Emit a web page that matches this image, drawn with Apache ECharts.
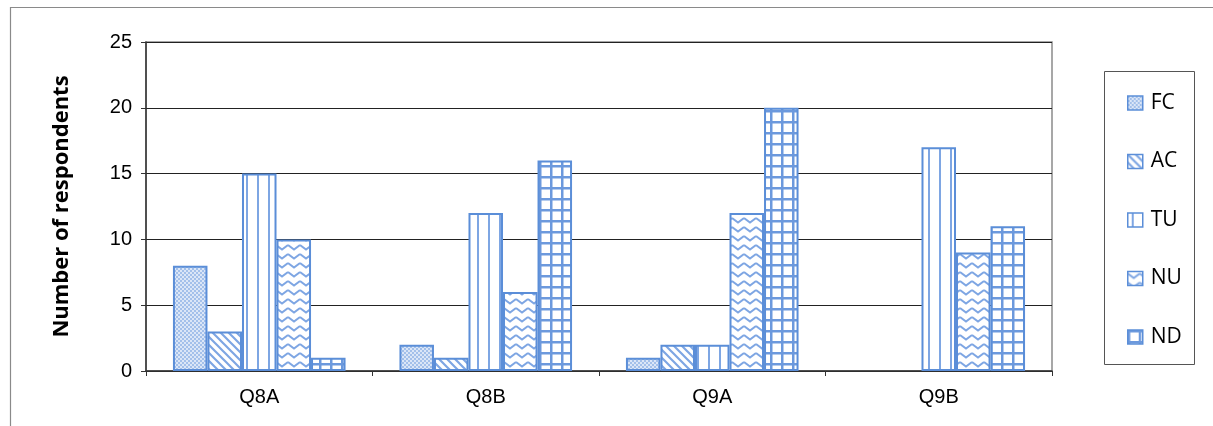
<!DOCTYPE html>
<html>
<head>
<meta charset="utf-8">
<script src="https://cdn.jsdelivr.net/npm/echarts@6/dist/echarts.min.js"></script>
<style>
html,body{margin:0;padding:0;background:#fff;}
#chart{width:1213px;height:426px;}
</style>
</head>
<body>
<div id="chart"></div>
<script>
const categories = ['Q8A', 'Q8B', 'Q9A', 'Q9B'];
const seriesNames = ['FC', 'AC', 'TU', 'NU', 'ND'];
const FC = [8, 2, 1, 0];
const AC = [3, 1, 2, 0];
const TU = [15, 12, 2, 17];
const NU = [10, 6, 12, 9];
const ND = [1, 16, 20, 11];
const yTicks = [0, 5, 10, 15, 20, 25];
const yAxisTitle = 'Number of respondents';

const BORDER = '#5b8ed8';
const LINE = '#7ea6e3';

function makeCanvas(w, h, draw) {
  const c = document.createElement('canvas');
  c.width = w; c.height = h;
  const ctx = c.getContext('2d');
  ctx.fillStyle = '#ffffff';
  ctx.fillRect(0, 0, w, h);
  draw(ctx, w, h);
  return c;
}

const patterns = {
  FC: makeCanvas(4, 4, (ctx) => {
    ctx.fillStyle = '#dbe6f7';
    ctx.fillRect(0, 0, 4, 4);
    ctx.fillStyle = '#a3c0ea';
    ctx.fillRect(0, 0, 2, 2);
    ctx.fillRect(2, 2, 2, 2);
  }),
  AC: makeCanvas(8, 8, (ctx) => {
    ctx.strokeStyle = LINE;
    ctx.lineWidth = 2.2;
    ctx.beginPath();
    ctx.moveTo(-2, -2); ctx.lineTo(10, 10);
    ctx.moveTo(-10, -2); ctx.lineTo(2, 10);
    ctx.moveTo(6, -2); ctx.lineTo(18, 10);
    ctx.stroke();
  }),
  TU: makeCanvas(11, 4, (ctx) => {
    ctx.fillStyle = LINE;
    ctx.fillRect(4, 0, 2, 4);
  }),
  NU: makeCanvas(12, 9, (ctx) => {
    ctx.strokeStyle = LINE;
    ctx.lineWidth = 2;
    ctx.beginPath();
    ctx.moveTo(0, 2); ctx.lineTo(6, 6.5); ctx.lineTo(12, 2);
    ctx.stroke();
  }),
  ND: makeCanvas(11, 11, (ctx) => {
    ctx.fillStyle = '#6c99dd';
    ctx.fillRect(0, 0, 11, 2.5);
    ctx.fillRect(0, 0, 2.5, 11);
  })
};

const dataSets = [FC, AC, TU, NU, ND];

const series = seriesNames.map((name, i) => ({
  name: name,
  type: 'bar',
  barGap: '0%',
  barCategoryGap: '23.8%',
  data: dataSets[i].map(v => v === 0 ? '-' : v),
  itemStyle: {
    color: { image: patterns[name], repeat: 'repeat' },
    borderColor: BORDER,
    borderWidth: 2
  },
  emphasis: { disabled: true },
  animation: false
}));

const chart = echarts.init(document.getElementById('chart'), null, { renderer: 'canvas' });
chart.setOption({
  animation: false,
  backgroundColor: '#ffffff',
  grid: {
    left: 146, right: 161, top: 42, bottom: 55,
    show: true, borderColor: '#8a8a8a', borderWidth: 1.5
  },
  graphic: [
    { type: 'rect', shape: { x: 10.5, y: 7.5, width: 1300, height: 500 },
      style: { fill: 'none', stroke: '#8a8a8a', lineWidth: 1.2 }, silent: true },
    { type: 'rect', shape: { x: 1104.5, y: 71.5, width: 90, height: 293 },
      style: { fill: '#fff', stroke: '#555', lineWidth: 1 }, silent: true, z: -1 }
  ],
  legend: {
    orient: 'vertical',
    left: 1122,
    top: 86,
    itemWidth: 15,
    itemHeight: 14,
    itemGap: 34.5,
    icon: 'rect',
    itemStyle: { borderColor: BORDER, borderWidth: 1.5 },
    textStyle: { fontFamily: '"Open Sans", Lato, sans-serif', fontSize: 21, color: '#000', lineHeight: 24, padding: [0, 0, 0, 3] },
    data: seriesNames
  },
  xAxis: {
    type: 'category',
    data: categories,
    axisLine: { lineStyle: { color: '#333', width: 1.5 } },
    axisTick: { show: true, length: 5, lineStyle: { color: '#333' } },
    axisLabel: { fontFamily: '"Liberation Sans", Arial, sans-serif', fontSize: 20, color: '#000', margin: 16 }
  },
  yAxis: {
    type: 'value',
    min: 0, max: 25, interval: 5,
    name: yAxisTitle,
    nameLocation: 'middle',
    nameGap: 73,
    nameRotate: 90,
    nameTextStyle: { fontFamily: '"Open Sans", "Noto Sans", sans-serif', fontWeight: 700, fontSize: 22, color: '#000' },
    axisLine: { show: true, lineStyle: { color: '#333', width: 1.5 } },
    axisTick: { show: true, length: 5, lineStyle: { color: '#333' } },
    splitLine: { lineStyle: { color: '#222', width: 1 } },
    axisLabel: {
      fontFamily: '"Liberation Sans", Arial, sans-serif', fontSize: 20, color: '#000', margin: 14,
      formatter: v => yTicks.indexOf(v) >= 0 ? String(v) : ''
    }
  },
  series: series
});
</script>
</body>
</html>
